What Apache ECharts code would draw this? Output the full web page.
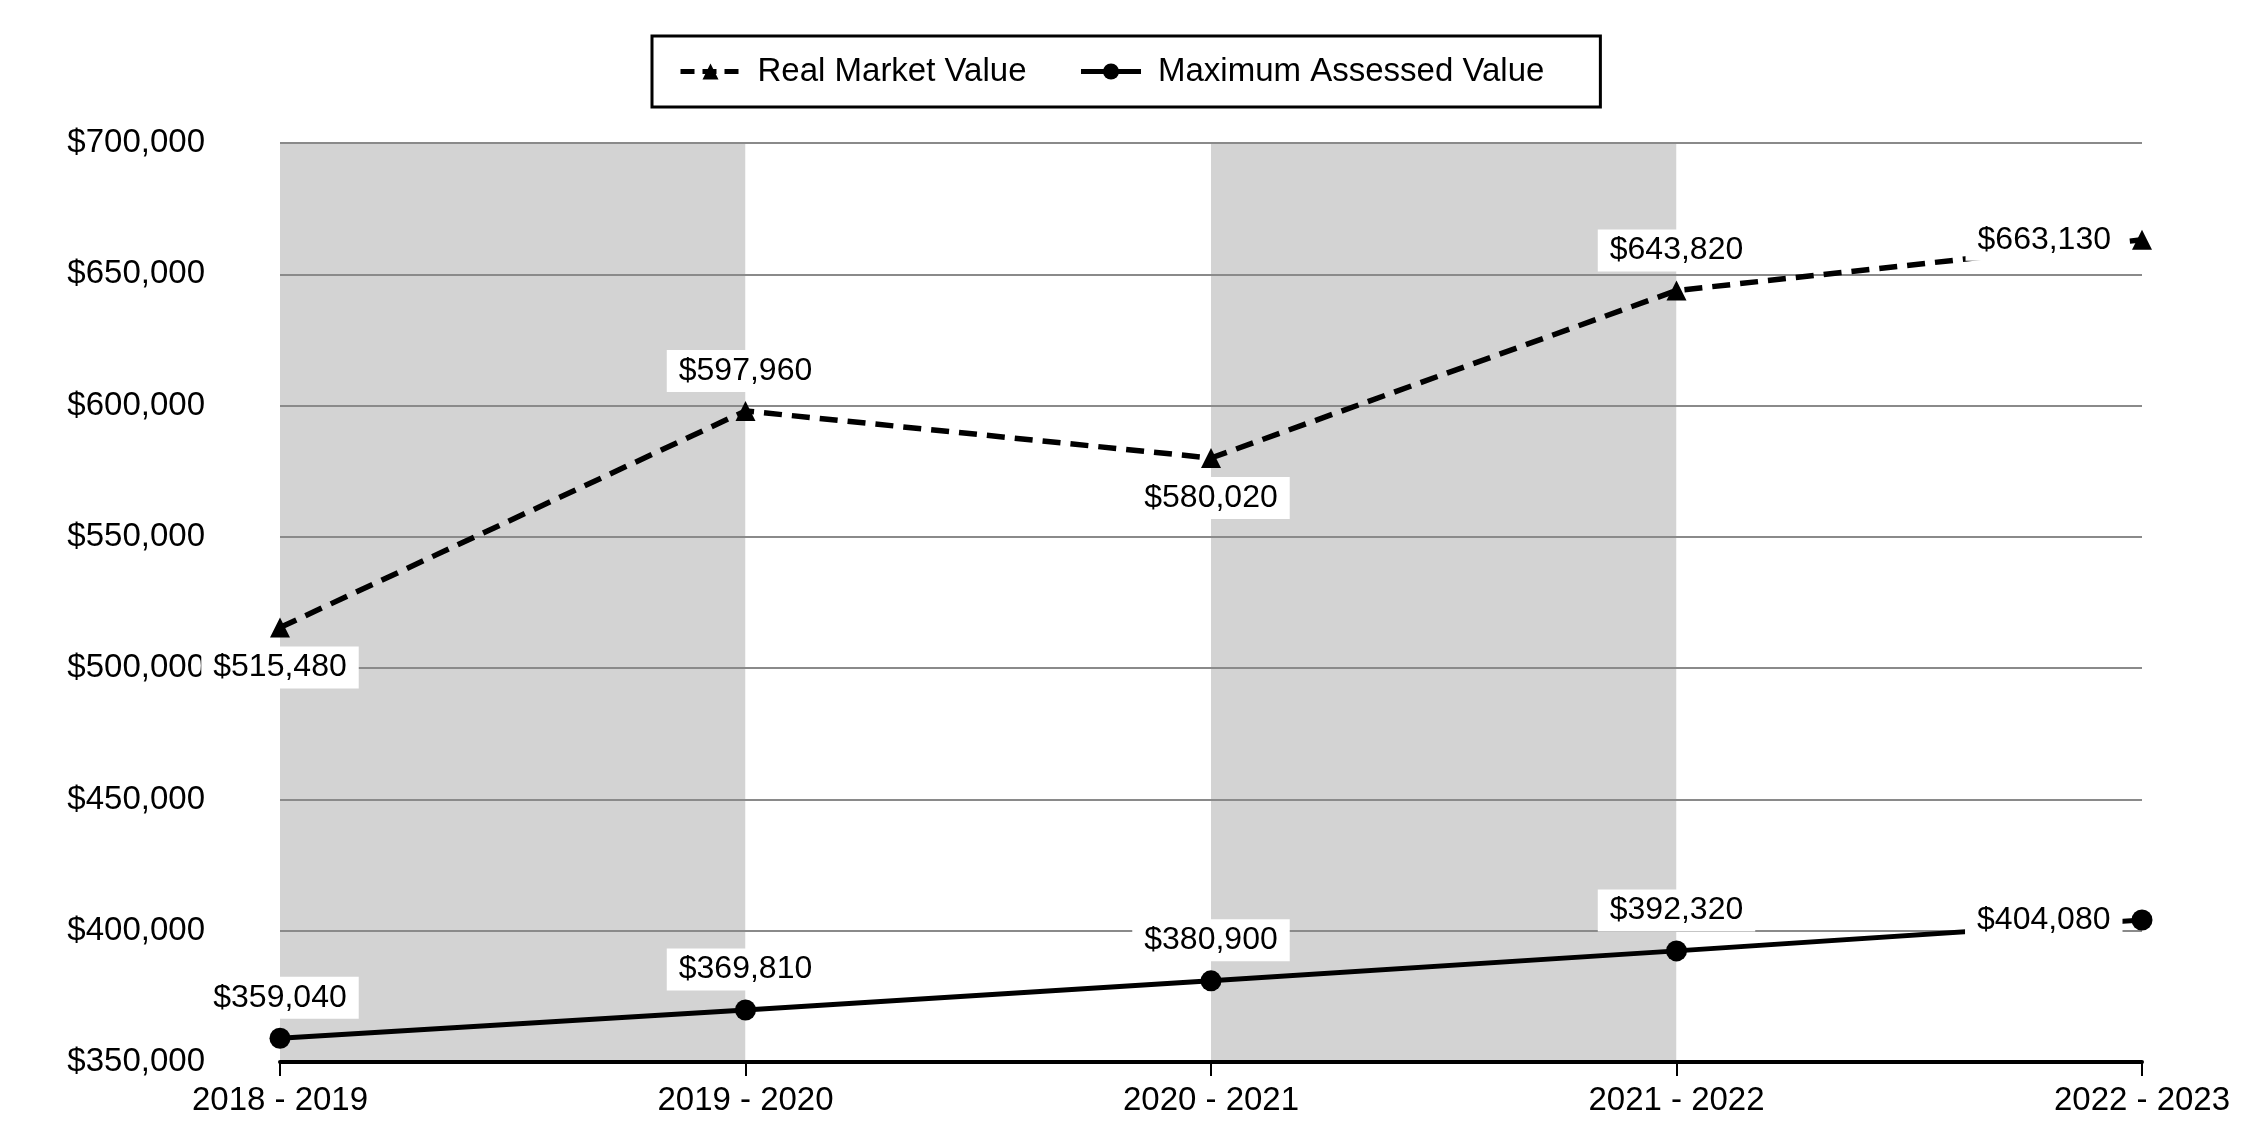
<!DOCTYPE html>
<html>
<head>
<meta charset="utf-8">
<script src="https://cdn.jsdelivr.net/npm/echarts@6/dist/echarts.min.js"></script>
<style>html,body{margin:0;padding:0;background:#fff}#c{width:2250px;height:1140px}</style>
</head>
<body>
<div id="c"></div>
<script>
const categories = ['2018 - 2019', '2019 - 2020', '2020 - 2021', '2021 - 2022', '2022 - 2023'];
const realMarketValue = [515480, 597960, 580020, 643820, 663130];
const maxAssessedValue = [359040, 369810, 380900, 392320, 404080];
const yMin = 350000, yMax = 700000, yStep = 50000;

const rmvLabelPlace = ['bottom', 'top', 'bottom', 'top', 'left'];
const mavLabelPlace = ['top', 'top', 'top', 'top', 'left'];

const fmt = v => '$' + v.toLocaleString('en-US');
const FONT = 'Liberation Sans, Arial, sans-serif';

function build(values, places) {
  return values.map((v, i) => ({ value: v, label: { position: places[i] } }));
}

const labelBase = {
  show: true,
  formatter: p => fmt(p.value),
  color: '#000',
  fontSize: 32,
  fontFamily: FONT,
  backgroundColor: '#fff',
  padding: [5, 12],
  distance: 9
};

const chart = echarts.init(document.getElementById('c'));
chart.setOption({
  animation: false,
  textStyle: { fontFamily: FONT, color: '#000' },
  legend: {
    top: 36,
    left: 652,
    padding: [19, 56, 19, 26],
    itemGap: 52,
    itemWidth: 60,
    itemHeight: 20,
    borderColor: '#000',
    borderWidth: 3,
    backgroundColor: '#fff',
    textStyle: { fontSize: 33, color: '#000', fontFamily: FONT, padding: [0, 0, 0, 12] },
    data: [
      { name: 'Real Market Value', lineStyle: { width: 5, type: [14, 8], color: '#000' } },
      { name: 'Maximum Assessed Value', lineStyle: { width: 5, type: 'solid', color: '#000' } }
    ]
  },
  grid: { left: 280, right: 108, top: 143, bottom: 78, containLabel: false },
  xAxis: [
    {
      type: 'category',
      data: categories,
      boundaryGap: false,
      z: 0,
      axisLine: { show: false },
      axisTick: { show: false },
      axisLabel: { show: false },
      splitLine: { show: false },
      splitArea: { show: true, areaStyle: { color: ['#d3d3d3', '#ffffff'] } }
    },
    {
      type: 'category',
      data: categories,
      boundaryGap: false,
      position: 'bottom',
      z: 2,
      axisLine: { show: true, onZero: false, lineStyle: { color: '#000', width: 4 } },
      axisTick: { show: true, length: 14, lineStyle: { color: '#000', width: 2 } },
      axisLabel: { fontSize: 33, color: '#000', margin: 22, fontFamily: FONT },
      splitLine: { show: false },
      splitArea: { show: false }
    }
  ],
  yAxis: {
    type: 'value',
    min: yMin,
    max: yMax,
    interval: yStep,
    z: 1,
    axisLine: { show: false },
    axisTick: { show: false },
    axisLabel: { fontSize: 33, color: '#000', margin: 75, formatter: v => fmt(v), fontFamily: FONT },
    splitLine: { show: true, lineStyle: { color: '#8a8a8a', width: 2 } }
  },
  series: [
    {
      name: 'Real Market Value',
      type: 'line',
      xAxisIndex: 1,
      data: build(realMarketValue, rmvLabelPlace),
      symbol: 'triangle',
      symbolSize: 20,
      itemStyle: { color: '#000' },
      lineStyle: { color: '#000', width: 5.5, type: [18, 10] },
      label: labelBase,
      z: 3
    },
    {
      name: 'Maximum Assessed Value',
      type: 'line',
      xAxisIndex: 1,
      data: build(maxAssessedValue, mavLabelPlace),
      symbol: 'circle',
      symbolSize: 21,
      itemStyle: { color: '#000' },
      lineStyle: { color: '#000', width: 5, type: 'solid' },
      label: labelBase,
      z: 3
    }
  ]
});
</script>
</body>
</html>
